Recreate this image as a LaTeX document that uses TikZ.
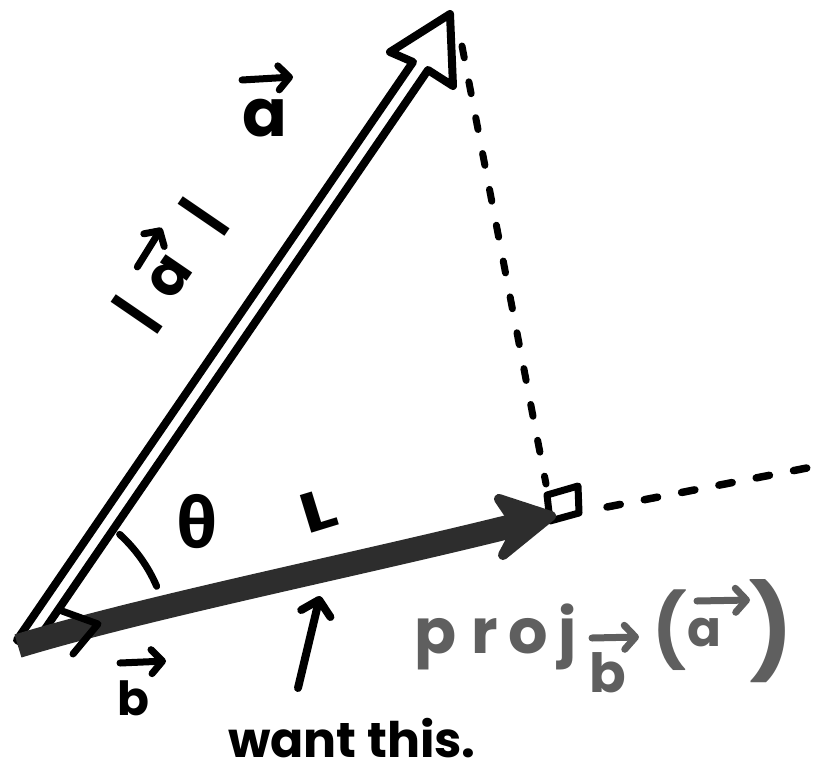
\documentclass[tikz,border=0pt]{standalone}
\usepackage{fontspec}
\setmainfont{Poppins}
\newfontfamily\greekfont{Fira Sans}
\usetikzlibrary{arrows.meta,calc}
\definecolor{projgray}{RGB}{95,95,95}
\definecolor{bandgray}{RGB}{45,45,45}
\begin{document}
\begin{tikzpicture}[x=1pt,y=-1pt,
  hand/.style={line width=8pt,line cap=round,line join=round},
  dashline/.style={line width=7pt,line cap=round,dash pattern=on 12pt off 24.5pt},
  dashline2/.style={line width=7.5pt,line cap=round,dash pattern=on 13.5pt off 24.5pt},
  vecmark/.style={line width=7pt,line cap=round,line join=round,-{Straight Barb[length=11pt,width=24pt,round]}},
  lbl/.style={inner sep=0pt,font=\bfseries\fontsize{#1}{#1}\selectfont},
]
\useasboundingbox (0,0) rectangle (816,776);
\coordinate (O) at (18,646);
\coordinate (P) at (551,516);
\coordinate (Pb) at (528,522);
\coordinate (Atip) at (450,14);

% vector a (hollow arrow)
\draw[hand, fill=white] (17,640) -- (413,62) -- (390,52) -- (Atip) -- (453,86) -- (428,70) -- (32,648) -- cycle;

% dashed perpendicular from tip of a
\coordinate (D1) at (462,46);
\coordinate (Q) at (546,484);
\draw[dashline] (D1) -- (Q);

% dashed extension of b
\coordinate (E1) at (607,507);
\coordinate (E2) at (812,467);
\draw[dashline2] (E1) -- (E2);

% right-angle square
\draw[hand, line width=7pt] (550,521) -- (547,495) -- (578,486) -- (579,513) -- cycle;

% projection band
\draw[line width=24pt, bandgray] (O) .. controls (150,606) and (370,562) .. (Pb);
\filldraw[hand, line width=10pt, bandgray] (499,499) -- (P) -- (503,555) -- (518,527) -- cycle;

% small b arrowhead at origin
\draw[hand, line width=7pt, black] (62,611) -- (98,624) -- (73,654);

% angle arc
\draw[hand, line width=7pt] (O) ++(-47.7:151) arc[start angle=-47.7, end angle=-23.3, radius=151];

% label vec a
\node[lbl=66] (la) at (265,118) {a};
\draw[vecmark] ([shift={(-23,-38)}]la.center) -- ([shift={(28,-41)}]la.center);

% label |a|
\begin{scope}[shift={(168,277)}, rotate=55.6]
  \node[lbl=58, transform shape] (labs) at (11,-4) {{\greekfont\bfseries\fontsize{62}{62}\selectfont|}\kern18pt a\kern38pt{\greekfont\bfseries\fontsize{62}{62}\selectfont|}};
  \draw[vecmark] (-9,-31) -- (37,-33);
\end{scope}

% theta
\node[lbl=70, font=\greekfont\bfseries\fontsize{70}{70}\selectfont] (th) at (197,522) {θ};

% L mark
\node[lbl=56, rotate=17, xscale=1.3] (Lm) at (318,511) {L};

% label vec b
\node[lbl=47] (lb) at (133,698) {b};
\draw[vecmark] ([shift={(-13,-35)}]lb.center) -- ([shift={(33,-37)}]lb.center);

% want this
\node[lbl=49, anchor=base] (want) at (352,757) {want this.};
\coordinate (wantTail) at (298,688);
\coordinate (wantTip) at (320,596);
\draw[hand, -{Straight Barb[length=14pt,width=30pt,round]}] (wantTail) -- (wantTip);

% proj label
\node[lbl=62, projgray, anchor=base west] (proj) at (414,653) {p\kern15pt r\kern11pt o\kern10pt j};
\node[lbl=54, projgray] (pb) at (608,673) {b};
\draw[vecmark, projgray] ([shift={(-16,-35)}]pb.center) -- ([shift={(31,-36)}]pb.center);
\node[lbl=72, projgray] (plp) at (670,630) {(};
\node[lbl=50, projgray] (pa) at (704,633) {a};
\draw[vecmark, projgray] ([shift={(-7,-32)}]pa.center) -- ([shift={(46,-33)}]pa.center);
\node[lbl=92, projgray] (prp) at (771,631) {)};
\end{tikzpicture}
\end{document}
